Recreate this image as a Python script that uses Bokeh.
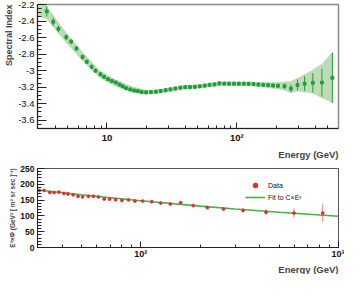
import numpy as np
from bokeh.plotting import figure
from bokeh.layouts import column
from bokeh.models import FixedTicker, CustomJSTickFormatter, Title, Legend, LegendItem
from bokeh.embed import file_html
from bokeh.resources import INLINE

# ---------------- data: top panel (spectral index) ----------------
idx_energy = [3.44, 3.86, 4.23, 4.86, 5.30, 5.82, 6.49, 6.99, 7.62, 8.17, 8.91, 9.5,
              10.2, 10.9, 11.7, 12.5, 13.2, 14.0, 15.1, 16.2, 17.3, 18.5, 20.0, 21.8,
              23.8, 25.9, 28.3, 30.8, 33.6, 36.7, 40.0, 43.6, 47.5, 51.8, 56.5, 61.6,
              67.2, 73.3, 79.9, 87.1, 94.9, 103.5, 112.9, 123.1, 134.2, 146.3, 159.6,
              174.0, 189.7, 206.9, 232.4, 260.5, 292.6, 331.9, 383.9, 451.0, 542.8]
idx_value = [-2.283, -2.409, -2.495, -2.595, -2.649, -2.732, -2.835, -2.893, -2.954, -3.001,
             -3.044, -3.075, -3.104, -3.126, -3.144, -3.169, -3.19, -3.212, -3.227, -3.241,
             -3.248, -3.260, -3.262, -3.260, -3.255, -3.246, -3.237, -3.227, -3.216, -3.206,
             -3.200, -3.198, -3.196, -3.190, -3.182, -3.172, -3.166, -3.153, -3.157, -3.158,
             -3.158, -3.158, -3.158, -3.159, -3.163, -3.168, -3.172, -3.176, -3.180, -3.183,
             -3.189, -3.217, -3.174, -3.158, -3.147, -3.144, -3.087]
idx_err = [0.063, 0.05, 0.04, 0.035, 0.03, 0.03, 0.03, 0.028, 0.028, 0.026, 0.025, 0.025,
           0.024, 0.024, 0.024, 0.024, 0.024, 0.024, 0.024, 0.024, 0.024, 0.024, 0.024, 0.024,
           0.024, 0.024, 0.024, 0.024, 0.024, 0.024, 0.024, 0.024, 0.024, 0.024, 0.024, 0.024,
           0.024, 0.024, 0.024, 0.024, 0.024, 0.024, 0.024, 0.024, 0.024, 0.024, 0.024,
           0.024, 0.025, 0.028, 0.032, 0.045, 0.068, 0.09, 0.117, 0.17, 0.305]

band_energy = [2.92, 3.44, 4.86, 6.49, 8.66, 11.5, 15.4, 20, 25, 30, 40, 50, 60, 80, 100,
               130, 160, 200, 232, 260, 293, 332, 384, 451, 543]
band_low = [-2.33, -2.38, -2.667, -2.882, -3.08, -3.187, -3.26, -3.29, -3.28, -3.255, -3.225,
            -3.217, -3.2, -3.182, -3.185, -3.19, -3.205, -3.222, -3.24, -3.27, -3.25, -3.26,
            -3.276, -3.33, -3.392]
band_high = [-2.14, -2.22, -2.54, -2.775, -2.99, -3.104, -3.187, -3.235, -3.225, -3.205,
             -3.175, -3.167, -3.15, -3.132, -3.133, -3.135, -3.14, -3.14, -3.135, -3.126,
             -3.09, -3.044, -2.99, -2.918, -2.775]

top_x_ticks = [10, 100]
top_x_labels = ["10", "10²"]
top_y_ticks = [-3.6, -3.4, -3.2, -3.0, -2.8, -2.6, -2.4, -2.2]

# ---------------- data: bottom panel (E^3 x flux) ----------------
flux_energy = [30.6, 32.4, 34.6, 36.4, 38.5, 40.8, 42.8, 45.4, 48.1, 50.7, 54.3, 57.5, 61.0,
               65.2, 69.5, 74.5, 80.2, 86.5, 93.3, 102, 113.5, 126, 141, 159, 184, 217, 262,
               329, 430, 595, 832]
flux_value = [180.5, 180.5, 174, 174, 175, 171, 169.5, 166.8, 162, 160, 162, 162, 160, 153.5,
              153, 151, 149, 150.5, 147, 147, 145, 140.5, 137.5, 142, 132.7, 126.4, 121.7,
              117.3, 111.8, 109, 109]
flux_err = [3, 3, 3, 3, 3, 3, 3, 3, 3, 3, 3, 3, 3, 3, 3, 3, 3, 3, 3, 3, 3.5, 4, 4, 5, 5, 5.5,
            6, 7, 9, 14.7, 28]
fit_energy = [30, 50, 100, 200, 300, 500, 1000]
fit_value = [182, 167, 148, 131, 122, 111.5, 99]

bot_x_ticks = [100, 1000]
bot_x_labels = ["10²", "10³"]
bot_y_ticks = [0, 50, 100, 150, 200, 250]

# ---------------- styling ----------------
FONT = "Liberation Sans"
GREEN = "#1f9e3e"
BAND = "#bddcb5"
RED = "#e0302a"
FIT = "#45b052"
AX = "#222222"

label_js = ("for (let i = 0; i < vals.length; i++) {"
            " if (Math.abs(vals[i] - tick) < 1e-6 * vals[i]) return labels[i]; }"
            " return '';")


def style_axis(ax, major_in, minor_in, size, bold, standoff=3):
    ax.major_tick_in = major_in
    ax.major_tick_out = 0
    ax.minor_tick_in = minor_in
    ax.minor_tick_out = 0
    ax.axis_line_color = AX
    ax.major_tick_line_color = AX
    ax.minor_tick_line_color = AX
    ax.major_label_text_font = FONT
    ax.major_label_text_font_size = size
    ax.major_label_text_font_style = "bold" if bold else "normal"
    ax.major_label_text_color = "#111111"
    ax.major_label_standoff = standoff


# ---------------- top figure ----------------
p1 = figure(width=344, height=160, x_axis_type="log", x_range=(2.92, 605),
            y_range=(-3.7, -2.2), output_backend="svg", toolbar_location=None,
            min_border_left=36, min_border_right=6, min_border_top=4, min_border_bottom=26)
p1.grid.visible = False
p1.outline_line_color = "#8c8c8c"
p1.outline_line_width = 1.5

p1.varea(x=band_energy, y1=band_low, y2=band_high, fill_color=BAND)
lo = [v - e for v, e in zip(idx_value, idx_err)]
hi = [v + e for v, e in zip(idx_value, idx_err)]
p1.segment(x0=idx_energy, y0=lo, x1=idx_energy, y1=hi, line_color=GREEN, line_width=1)
p1.scatter(idx_energy, idx_value, marker="square", size=2.8, color=GREEN)

p1.xaxis.ticker = FixedTicker(ticks=top_x_ticks,
                              minor_ticks=[4, 5, 6, 7, 8, 9, 20, 30, 40, 50, 60, 70, 80, 90,
                                           200, 300, 400, 500])
p1.xaxis.formatter = CustomJSTickFormatter(args=dict(vals=top_x_ticks, labels=top_x_labels),
                                           code=label_js)
p1.yaxis.ticker = FixedTicker(ticks=top_y_ticks,
                              minor_ticks=[round(-3.7 + 0.05 * i, 2) for i in range(31)])
p1.yaxis.formatter = CustomJSTickFormatter(code="return String(Math.round(tick * 10) / 10);")
style_axis(p1.xaxis[0], 6, 3, "9.5px", True)
style_axis(p1.yaxis[0], 9, 4, "9.5px", False)

p1.add_layout(Title(text="Spectral Index", align="right", text_font=FONT,
                    text_font_size="9px", text_font_style="bold", standoff=3), "left")
p1.add_layout(Title(text="Energy (GeV)", align="right", text_font=FONT,
                    text_font_size="9.5px", text_font_style="bold", standoff=2), "below")

# ---------------- bottom figure ----------------
p2 = figure(width=344, height=114, x_axis_type="log", x_range=(30, 1000),
            y_range=(0, 250), output_backend="svg", toolbar_location=None,
            min_border_left=36, min_border_right=6, min_border_top=8, min_border_bottom=22)
p2.grid.visible = False
p2.outline_line_color = "#555555"
p2.outline_line_width = 1

flo = [v - e for v, e in zip(flux_value, flux_err)]
fhi = [v + e for v, e in zip(flux_value, flux_err)]
fit_r = p2.line(fit_energy, fit_value, line_color=FIT, line_width=1.6)
p2.segment(x0=flux_energy, y0=flo, x1=flux_energy, y1=fhi, line_color=RED, line_width=1,
           line_alpha=0.6)
data_r = p2.scatter(flux_energy, flux_value, marker="circle", size=2.8, color=RED)

p2.xaxis.ticker = FixedTicker(ticks=bot_x_ticks,
                              minor_ticks=[40, 50, 60, 70, 80, 90, 200, 300, 400, 500, 600,
                                           700, 800, 900])
p2.xaxis.formatter = CustomJSTickFormatter(args=dict(vals=bot_x_ticks, labels=bot_x_labels),
                                           code=label_js)
p2.yaxis.ticker = FixedTicker(ticks=bot_y_ticks, minor_ticks=list(range(0, 251, 10)))
style_axis(p2.xaxis[0], 6, 3, "9px", True, standoff=1)
style_axis(p2.yaxis[0], 7, 4, "8.5px", True)

p2.add_layout(Title(text="E³×Φ (GeV² [ m² sr sec ]⁻¹)", align="center", text_font=FONT,
                    text_font_size="6.5px", text_font_style="bold", standoff=3), "left")
p2.add_layout(Title(text="Energy (GeV)", align="right", text_font=FONT,
                    text_font_size="9.5px", text_font_style="bold", standoff=0), "below")

legend = Legend(items=[LegendItem(label="Data", renderers=[data_r]),
                       LegendItem(label="Fit to C×Eᵞ", renderers=[fit_r])],
                location=(208, 44), label_text_font=FONT, label_text_font_size="7px",
                label_text_color="#111111",
                glyph_width=20, glyph_height=12, spacing=0, padding=2, label_standoff=3,
                label_height=12, border_line_color=None, background_fill_alpha=0)
p2.add_layout(legend)

layout = column(p1, p2)
open("out.html", "w").write(file_html(layout, INLINE))
